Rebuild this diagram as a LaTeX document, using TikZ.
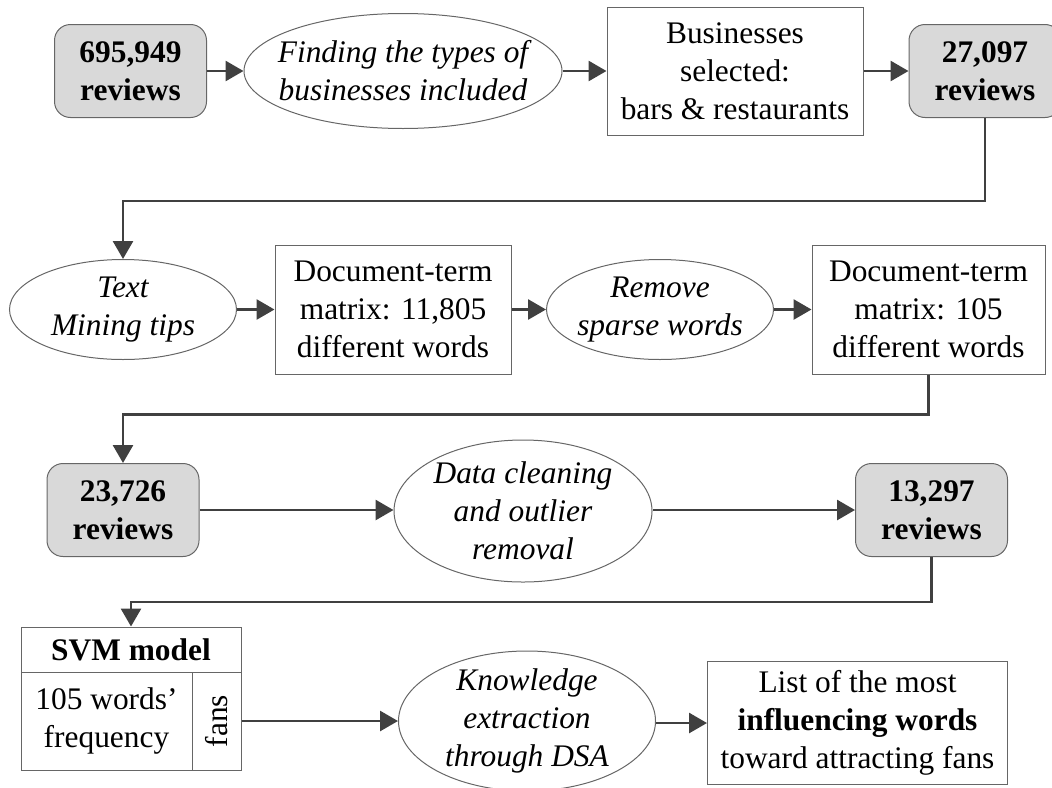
\documentclass[tikz,border=0pt]{standalone}
\usepackage{fontspec}
\setmainfont{Liberation Serif}
\usepackage{tikz}
\usetikzlibrary{shapes,arrows.meta}
\definecolor{countgray}{HTML}{D9D9D9}
\definecolor{edgegray}{HTML}{666666}
\definecolor{linkgray}{HTML}{404040}

\begin{document}
\begin{tikzpicture}[x=0.5pt,y=-0.5pt,
    font=\fontsize{15.7pt}{19pt}\selectfont,
    >={Triangle[length=9pt,width=10pt]},
    count/.style={draw=edgegray,line width=0.5pt,fill=countgray,rounded corners=8pt,
        minimum width=76pt,minimum height=46.5pt,inner sep=0pt,align=center,
        font=\fontsize{15.7pt}{19pt}\selectfont\bfseries},
    task/.style={ellipse,draw=edgegray,line width=0.5pt,inner sep=-20pt,align=center,
        font=\fontsize{15.7pt}{19pt}\selectfont\itshape},
    result/.style={rectangle,draw=edgegray,line width=0.5pt,inner sep=0pt,align=center},
    link/.style={->,draw=linkgray,line width=1.4pt}]
\useasboundingbox (0,0) rectangle (1052,787);
\draw
    node at (130.5,71)[count,name=all]{695,949\\reviews}
    node at (403,71)[task,minimum width=159pt,minimum height=57.5pt,name=types]{Finding the types of\\businesses included}
    node at (735,71)[result,minimum width=128pt,minimum height=64pt,name=select]{Businesses\\selected:\\bars \& restaurants}
    node at (985,71)[count,name=bars]{27,097\\reviews}

    node at (123,309.5)[task,minimum width=113.5pt,minimum height=50pt,name=tips]{Text\\Mining tips}
    node at (393,309.5)[result,minimum width=118pt,minimum height=64.5pt,name=dtmfull]{Document-term\\matrix: 11,805\\different words}
    node at (660,309.5)[task,minimum width=113.5pt,minimum height=50pt,name=sparse]{Remove\\sparse words}
    node at (928.5,309.5)[result,minimum width=116.5pt,minimum height=64.5pt,name=dtmkept]{Document-term\\matrix: 105\\different words}

    node at (123,510)[count,name=kept]{23,726\\reviews}
    node at (523,511)[task,minimum width=129pt,minimum height=71pt,name=clean]{Data cleaning\\and outlier\\removal}
    node at (931.5,510)[count,name=final]{13,297\\reviews}

    node at (131,649.5)[result,minimum width=110pt,minimum height=22.5pt,name=svmhead]{\bfseries SVM model}
    node at (106.5,721)[result,minimum width=85.5pt,minimum height=49pt,name=svmwords]{105 words’\\frequency}
    node at (216.5,721)[result,minimum width=24.5pt,minimum height=49pt,name=svmfans]{\rotatebox{90}{fans}}
    node at (527,721)[task,minimum width=128.5pt,minimum height=70pt,name=dsa]{Knowledge\\extraction\\through DSA}
    node at (857.5,723)[result,minimum width=150pt,minimum height=61.5pt,name=influence]{List of the most\\\textbf{influencing words}\\toward attracting fans}
;

    \draw[link](all) -- (types);
    \draw[link](types) -- (select);
    \draw[link](select) -- (bars);
    \draw[link](bars.south) -- ++(0,83) -| (tips.north);

    \draw[link](tips) -- (dtmfull);
    \draw[link](dtmfull) -- (sparse);
    \draw[link](sparse) -- (dtmkept);
    \draw[link](dtmkept.south) -- ++(0,40) -| (kept.north);

    \draw[link](kept) -- (clean.west |- kept);
    \draw[link](clean.east |- final) -- (final);
    \draw[link](final.south) -- ++(0,45) -| (svmhead.north);

    \draw[link](svmfans.east) -- (dsa.west |- svmfans);
    \draw[link](dsa.east |- influence) -- (influence);
\end{tikzpicture}
\end{document}
